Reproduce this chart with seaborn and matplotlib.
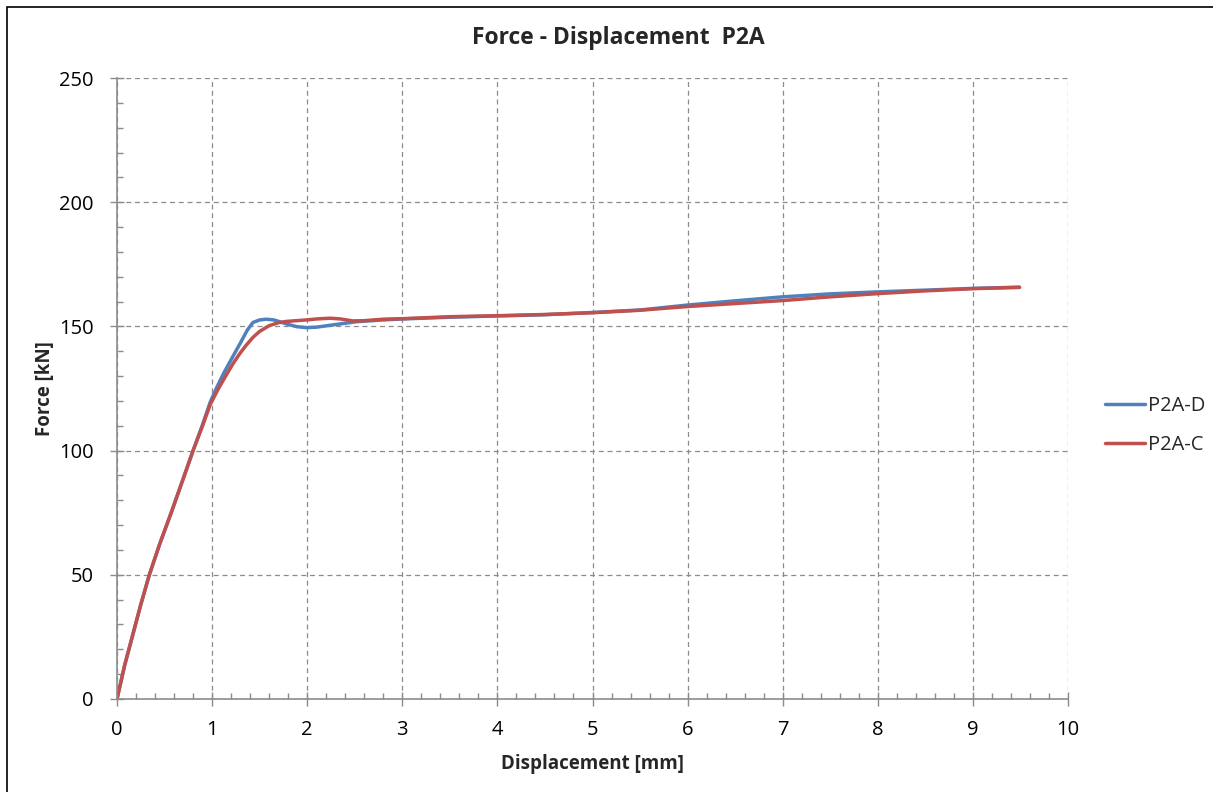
import matplotlib
matplotlib.use("Agg")
import matplotlib.pyplot as plt
import seaborn as sns
import pandas as pd
from matplotlib.ticker import MultipleLocator
from matplotlib.patches import Rectangle

# Data
disp_d = [0, 0.08, 0.16, 0.25, 0.34, 0.45, 0.57, 0.69, 0.80, 0.90, 0.98, 1.05, 1.12, 1.22,
          1.30, 1.37, 1.43, 1.50, 1.57, 1.65, 1.71, 1.80, 1.89, 1.99, 2.10, 2.27, 2.52,
          2.80, 3.0, 3.5, 4.0, 4.5, 5.0, 5.5, 6.0, 6.5, 7.0, 7.5, 8.0, 8.5, 9.0, 9.49]
force_d = [0, 13.5, 25, 38, 50, 62.5, 75, 88, 100, 110.5, 119.5, 125.5, 131, 138,
           143.5, 148.5, 151.6, 152.6, 152.9, 152.6, 151.9, 150.8, 149.9, 149.5, 149.7,
           150.6, 151.9, 152.6, 153.0, 153.7, 154.2, 154.7, 155.6, 156.6, 158.6, 160.3,
           161.9, 163.1, 163.9, 164.6, 165.3, 165.8]

disp_c = [0, 0.08, 0.16, 0.25, 0.34, 0.45, 0.57, 0.69, 0.80, 0.90, 0.98, 1.06, 1.15, 1.22,
          1.29, 1.36, 1.43, 1.50, 1.60, 1.70, 1.78, 1.99, 2.10, 2.24, 2.35, 2.48, 2.60,
          2.80, 3.0, 3.5, 4.0, 4.5, 5.0, 5.5, 6.0, 6.5, 7.0, 7.5, 8.0, 8.5, 9.0, 9.49]
force_c = [0, 13.5, 25, 38, 50, 62.5, 75, 88, 100, 110, 118.5, 124.5, 130.5, 135,
           139, 142.5, 145.6, 148, 150.3, 151.5, 152, 152.6, 153.0, 153.3, 153.0, 152.2,
           152.3, 152.9, 153.1, 153.9, 154.3, 154.8, 155.5, 156.5, 158.0, 159.2, 160.4,
           161.9, 163.2, 164.3, 165.2, 165.7]

series_names = ["P2A-D", "P2A-C"]
series_colors = ["#4F81BD", "#C0504D"]

df = pd.concat([
    pd.DataFrame({"Displacement": disp_d, "Force": force_d, "Series": series_names[0]}),
    pd.DataFrame({"Displacement": disp_c, "Force": force_c, "Series": series_names[1]}),
], ignore_index=True)

sns.set_style("white")
plt.rcParams["font.family"] = ["Open Sans", "DejaVu Sans"]

fig = plt.figure(figsize=(12.13, 7.92), dpi=100)
ax = fig.add_axes([117/1213, 1 - 699/792, (1068-117)/1213, (699-78)/792])

sns.lineplot(data=df, x="Displacement", y="Force", hue="Series", palette=series_colors,
             hue_order=series_names, sort=False, estimator=None, linewidth=2.5, ax=ax,
             legend=True)
for ln in ax.lines:
    ln.set_solid_joinstyle("round")
    ln.set_solid_capstyle("round")

ax.set_xlim(0, 10)
ax.set_ylim(0, 250)
ax.xaxis.set_major_locator(MultipleLocator(1))
ax.xaxis.set_minor_locator(MultipleLocator(0.2))
ax.yaxis.set_major_locator(MultipleLocator(50))
ax.yaxis.set_minor_locator(MultipleLocator(10))

ax.grid(True, which="major", linestyle=(0, (4, 3)), color="#8C8C8C", linewidth=0.9)
ax.set_axisbelow(True)
for s in ["top", "right"]:
    ax.spines[s].set_visible(False)
for s in ["left", "bottom"]:
    ax.spines[s].set_color("#8C8C8C")
    ax.spines[s].set_linewidth(1.2)

ax.tick_params(which="major", direction="inout", length=10, width=1.0, color="#8C8C8C",
               labelsize=14.5, labelcolor="black", bottom=True, left=True)
ax.tick_params(axis="y", which="major", pad=12)
ax.tick_params(axis="x", which="major", pad=10)
ax.tick_params(which="minor", direction="in", length=4, width=1.0, color="#8C8C8C",
               bottom=True, left=True)

ax.set_xlabel("Displacement [mm]", fontsize=13.5, fontweight="bold", labelpad=10)
ax.set_ylabel("Force [kN]", fontsize=13.5, fontweight="bold", labelpad=3)

fig.text(618/1213, 1 - 38/792, "Force - Displacement  P2A", ha="center", va="center",
         fontsize=16.5, fontweight="bold")

handles, labels = ax.get_legend_handles_labels()
ax.legend(handles, labels, loc="center left", bbox_to_anchor=(1.02, 0.44), frameon=False,
          fontsize=14.5, handlelength=2.0, handletextpad=0.15, labelspacing=0.95)

fig.patches.append(Rectangle((7/1213, -0.1), 1.2, 1 - 7/792 + 0.1, transform=fig.transFigure,
                             fill=False, edgecolor="black", linewidth=1.2))

fig.savefig("out.png", dpi=100)
